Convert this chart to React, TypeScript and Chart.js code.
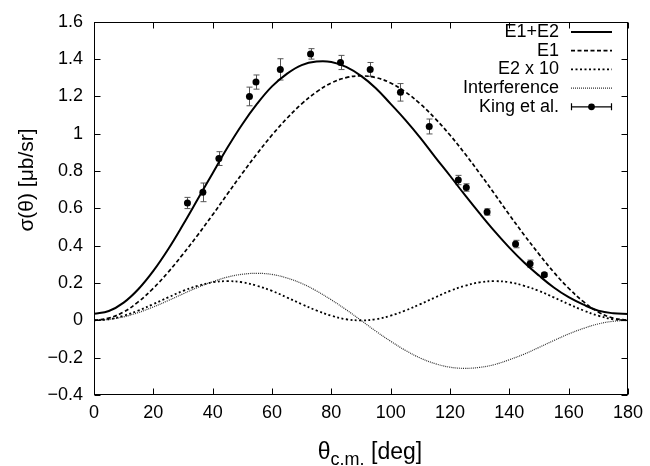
import React, { useEffect, useRef } from 'react';
import { Chart, registerables } from 'chart.js';

Chart.register(...registerables);

// ---- data ----
const ANGLES = [0, 5, 10, 15, 20, 25, 30, 35, 40, 45, 50, 55, 60, 65, 70, 75, 80, 85, 90,
  95, 100, 105, 110, 115, 120, 125, 130, 135, 140, 145, 150, 155, 160, 165, 170, 175, 180];

const E1E2 = [0.035, 0.050, 0.095, 0.168, 0.265, 0.381, 0.512, 0.650, 0.789, 0.926, 1.051, 1.161, 1.254,
  1.321, 1.368, 1.387, 1.385, 1.358, 1.310, 1.244, 1.160, 1.073, 0.978, 0.875, 0.775, 0.672, 0.573,
  0.478, 0.390, 0.310, 0.240, 0.176, 0.124, 0.084, 0.052, 0.038, 0.034];

const E1 = [0, 0.012, 0.045, 0.100, 0.172, 0.258, 0.355, 0.458, 0.566, 0.678, 0.788, 0.894, 0.993,
  1.082, 1.160, 1.224, 1.272, 1.301, 1.310, 1.301, 1.272, 1.224, 1.160, 1.082, 0.993, 0.894, 0.788,
  0.678, 0.566, 0.458, 0.355, 0.258, 0.172, 0.100, 0.045, 0.012, 0];

const E2X10 = [0, 0.006, 0.025, 0.053, 0.087, 0.123, 0.158, 0.185, 0.204, 0.210, 0.204, 0.185, 0.158,
  0.123, 0.087, 0.053, 0.025, 0.006, 0, 0.006, 0.025, 0.053, 0.087, 0.123, 0.158, 0.185, 0.204,
  0.210, 0.204, 0.185, 0.158, 0.123, 0.087, 0.053, 0.025, 0.006, 0];

const INTERF = [0, 0.005, 0.019, 0.042, 0.072, 0.106, 0.142, 0.177, 0.207, 0.232, 0.247, 0.252, 0.246,
  0.227, 0.198, 0.158, 0.110, 0.057, 0, -0.058, -0.112, -0.161, -0.202, -0.232, -0.251, -0.257, -0.252,
  -0.237, -0.211, -0.181, -0.145, -0.108, -0.073, -0.043, -0.019, -0.005, 0];

const KING_THETA = [31.5, 36.7, 42.1, 52.4, 54.6, 62.8, 73.0, 83.1, 93.1, 103.3, 113.0, 122.8, 125.5, 132.5, 142.1, 147.0, 151.8];
const KING_SIGMA = [0.629, 0.686, 0.867, 1.200, 1.277, 1.345, 1.428, 1.382, 1.345, 1.222, 1.039, 0.752, 0.712, 0.581, 0.409, 0.303, 0.245];
const KING_ERR = [0.030, 0.050, 0.037, 0.050, 0.038, 0.057, 0.028, 0.038, 0.037, 0.047, 0.040, 0.025, 0.020, 0.017, 0.020, 0.020, 0.010];

const X_TICKS = [0, 20, 40, 60, 80, 100, 120, 140, 160, 180];
const Y_TICKS = [-0.4, -0.2, 0, 0.2, 0.4, 0.6, 0.8, 1, 1.2, 1.4, 1.6];

const SERIES_LABELS = ['E1+E2', 'E1', 'E2 x 10', 'Interference', 'King et al.'];
const X_TITLE_MAIN = '\u03b8';
const X_TITLE_SUB = 'c.m.';
const X_TITLE_REST = ' [deg]';
const Y_TITLE = '\u03c3(\u03b8) [\u03bcb/sr]';

const FONT = "'Liberation Sans', Arial, Helvetica, sans-serif";

const fmtY = (v: number) => {
  const r = Math.round(v * 10) / 10;
  return r < 0 ? '\u2212' + String(Math.abs(r)) : String(r);
};

const gnuplotPlugin = {
  id: 'gnuplotDecor',
  beforeDatasetsDraw(chart: any) {
    const { ctx, scales } = chart;
    const x = scales.x, y = scales.y;
    ctx.save();
    ctx.strokeStyle = '#555';
    ctx.lineWidth = 1;
    ctx.setLineDash([]);
    KING_THETA.forEach((t, i) => {
      const px = Math.round(x.getPixelForValue(t)) + 0.5;
      const top = y.getPixelForValue(KING_SIGMA[i] + KING_ERR[i]);
      const bot = y.getPixelForValue(KING_SIGMA[i] - KING_ERR[i]);
      ctx.beginPath();
      ctx.moveTo(px, top); ctx.lineTo(px, bot);
      ctx.moveTo(px - 3, top); ctx.lineTo(px + 3, top);
      ctx.moveTo(px - 3, bot); ctx.lineTo(px + 3, bot);
      ctx.stroke();
    });
    ctx.restore();
  },
  afterDraw(chart: any) {
    const { ctx, chartArea: a, scales } = chart;
    const x = scales.x, y = scales.y;
    ctx.save();
    // frame
    ctx.strokeStyle = '#000';
    ctx.lineWidth = 1;
    ctx.setLineDash([]);
    const L = Math.round(a.left) + 0.5, R = Math.round(a.right) - 0.5;
    const T = Math.round(a.top) + 0.5, B = Math.round(a.bottom) - 0.5;
    ctx.strokeRect(L, T, R - L, B - T);
    // inward ticks on all four sides
    const tl = 6;
    ctx.beginPath();
    X_TICKS.forEach((v) => {
      const px = Math.round(x.getPixelForValue(v)) + 0.5;
      ctx.moveTo(px, B); ctx.lineTo(px, B - tl);
      ctx.moveTo(px, T); ctx.lineTo(px, T + tl);
    });
    Y_TICKS.forEach((v) => {
      const py = Math.round(y.getPixelForValue(v)) + 0.5;
      ctx.moveTo(L, py); ctx.lineTo(L + tl, py);
      ctx.moveTo(R, py); ctx.lineTo(R - tl, py);
    });
    ctx.stroke();

    // legend (gnuplot style: right-aligned text, sample to the right)
    const ds = chart.data.datasets;
    const textRight = 559;
    const sx0 = 571, sx1 = 612;
    const rowY = (i: number) => 32 + i * 18.7;
    ctx.font = `18px ${FONT}`;
    ctx.fillStyle = '#000';
    ctx.textAlign = 'right';
    ctx.textBaseline = 'middle';
    ds.forEach((d: any, i: number) => {
      const yy = rowY(i);
      ctx.fillText(d.label, textRight, yy);
      if (d.showLine === false) {
        ctx.strokeStyle = '#000';
        ctx.lineWidth = 1.2;
        ctx.setLineDash([]);
        ctx.beginPath();
        ctx.moveTo(sx0, yy); ctx.lineTo(sx1, yy);
        ctx.moveTo(sx0 + 0.5, yy - 3.5); ctx.lineTo(sx0 + 0.5, yy + 3.5);
        ctx.moveTo(sx1 - 0.5, yy - 3.5); ctx.lineTo(sx1 - 0.5, yy + 3.5);
        ctx.stroke();
        ctx.beginPath();
        ctx.arc((sx0 + sx1) / 2, yy, 3.4, 0, Math.PI * 2);
        ctx.fill();
      } else {
        ctx.strokeStyle = d.borderColor;
        ctx.lineWidth = d.borderWidth;
        ctx.setLineDash(d.borderDash || []);
        ctx.beginPath();
        ctx.moveTo(sx0, yy); ctx.lineTo(sx1, yy);
        ctx.stroke();
      }
    });
    ctx.setLineDash([]);

    // y title
    ctx.save();
    ctx.translate(27, 180);
    ctx.rotate(-Math.PI / 2);
    ctx.font = `21px ${FONT}`;
    ctx.textAlign = 'center';
    ctx.textBaseline = 'middle';
    ctx.fillStyle = '#000';
    ctx.fillText(Y_TITLE, 0, 0);
    ctx.restore();

    // x title with subscript
    const mainFont = `23px ${FONT}`;
    const subFont = `18px ${FONT}`;
    ctx.font = mainFont;
    const w1 = ctx.measureText(X_TITLE_MAIN).width;
    const w3 = ctx.measureText(X_TITLE_REST).width;
    ctx.font = subFont;
    const w2 = ctx.measureText(X_TITLE_SUB).width;
    const total = w1 + w2 + w3;
    const cx = (a.left + a.right) / 2 + 9;
    let xx = cx - total / 2;
    const base = 459;
    ctx.textAlign = 'left';
    ctx.textBaseline = 'alphabetic';
    ctx.font = mainFont;
    ctx.fillText(X_TITLE_MAIN, xx, base);
    xx += w1;
    ctx.font = subFont;
    ctx.fillText(X_TITLE_SUB, xx, base + 6);
    xx += w2;
    ctx.font = mainFont;
    ctx.fillText(X_TITLE_REST, xx, base);
    ctx.restore();
  },
};

export default function App() {
  const ref = useRef<HTMLCanvasElement | null>(null);

  useEffect(() => {
    if (!ref.current) return;
    const curve = (vals: number[]) => ANGLES.map((a, i) => ({ x: a, y: vals[i] }));
    const chart = new Chart(ref.current, {
      type: 'scatter',
      data: {
        datasets: [
          { label: SERIES_LABELS[0], data: curve(E1E2), showLine: true, borderColor: '#000', borderWidth: 2, pointRadius: 0, tension: 0.4 },
          { label: SERIES_LABELS[1], data: curve(E1), showLine: true, borderColor: '#000', borderWidth: 1.7, borderDash: [4, 2.5], pointRadius: 0, tension: 0.4 },
          { label: SERIES_LABELS[2], data: curve(E2X10), showLine: true, borderColor: '#000', borderWidth: 1.8, borderDash: [2, 2.5], pointRadius: 0, tension: 0.4 },
          { label: SERIES_LABELS[3], data: curve(INTERF), showLine: true, borderColor: '#333', borderWidth: 1.2, borderDash: [1, 1], pointRadius: 0, tension: 0.4 },
          { label: SERIES_LABELS[4], data: KING_THETA.map((t, i) => ({ x: t, y: KING_SIGMA[i] })), showLine: false, pointRadius: 3.5, pointHoverRadius: 3.5, backgroundColor: '#000', borderColor: '#000', borderWidth: 0 },
        ],
      },
      options: {
        animation: false,
        responsive: false,
        events: [],
        layout: { padding: { left: 0, right: 17, top: 16, bottom: 0 } },
        plugins: { legend: { display: false }, tooltip: { enabled: false }, title: { display: false } },
        scales: {
          x: {
            type: 'linear', min: 0, max: 180,
            afterBuildTicks: (s: any) => { s.ticks = X_TICKS.map((v) => ({ value: v })); },
            afterFit: (s: any) => { s.height = 71; },
            grid: { display: false, drawTicks: false },
            border: { display: false },
            ticks: { padding: 7, color: '#000', font: { size: 18, family: FONT }, maxRotation: 0, autoSkip: false, callback: (v: any) => String(v) },
          },
          y: {
            type: 'linear', min: -0.4, max: 1.6,
            afterBuildTicks: (s: any) => { s.ticks = Y_TICKS.map((v) => ({ value: v })); },
            afterFit: (s: any) => { s.width = 94; },
            grid: { display: false, drawTicks: false },
            border: { display: false },
            ticks: { padding: 11, color: '#000', font: { size: 18, family: FONT }, autoSkip: false, callback: (v: any) => fmtY(Number(v)) },
          },
        },
      },
      plugins: [gnuplotPlugin],
    } as any);
    return () => chart.destroy();
  }, []);

  return (
    <div style={{ position: 'absolute', left: 0, top: 0, width: 650, height: 466, background: '#fff' }}>
      <canvas ref={ref} width={650} height={466} style={{ display: 'block' }} />
    </div>
  );
}
